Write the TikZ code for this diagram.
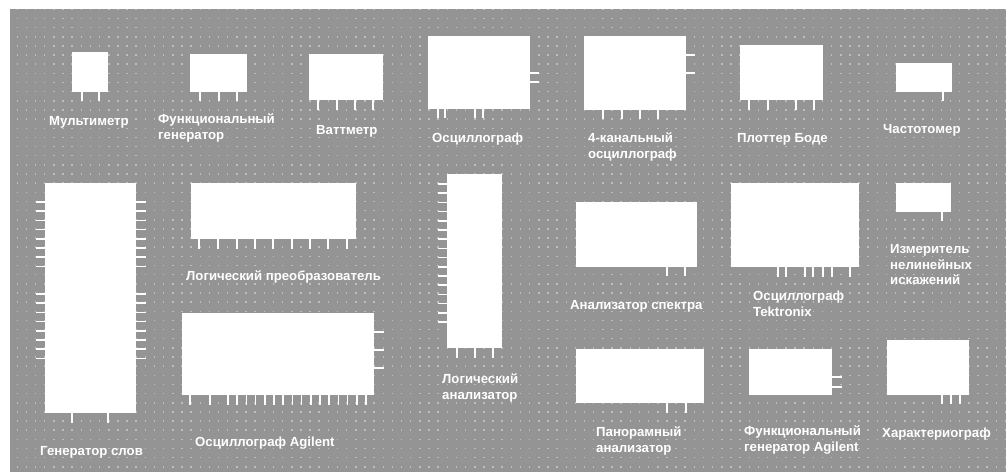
\documentclass[tikz,border=0pt]{standalone}
\usepackage{fontspec}
\setmainfont{Liberation Sans}
\definecolor{bgc}{RGB}{148,148,148}
\definecolor{dotc}{RGB}{190,190,190}
\tikzset{
  box/.style={fill=white, inner sep=0pt, outer sep=0pt, anchor=north west},
  pinline/.style={draw=white, line width=1.6pt},
  dotline/.style={draw=dotc, line width=1.5pt, dash pattern=on 1.5pt off 7.65pt, dash phase=0pt},
  lbl/.style={text=white, font=\bfseries\fontsize{13.2}{15.5}\selectfont, inner sep=0pt, anchor=west, align=left},
}
\newcommand{\mkbox}[5]{\node[box, minimum width=#4-#2, minimum height=#5-#3] (#1) at (#2,#3) {};}
\begin{document}
\begin{tikzpicture}[x=1pt,y=-1pt]
\useasboundingbox (0,0) rectangle (1006,472);
\fill[white] (0,0) rectangle (1006,472);
\fill[bgc] (10,9) rectangle (1006,472);
\foreach \k in {0,...,50} \draw[dotline] (16.5,9.3+9.15*\k) -- (1006,9.3+9.15*\k);

% ---- row 1
\mkbox{mm}{72}{52}{108}{92}
\foreach \x in {82,99} \draw[pinline] (\x,92) -- (\x,101);
\node[lbl] (tmm) at (49,122) {Мультиметр};

\mkbox{fg}{190}{54}{247}{92}
\foreach \x in {200,219,237} \draw[pinline] (\x,92) -- (\x,101);
\node[lbl] (tfg) at (158,128) {Функциональный\\генератор};

\mkbox{wm}{309}{54}{383}{100}
\foreach \x in {318,337,355,373} \draw[pinline] (\x,100) -- (\x,110);
\node[lbl] (twm) at (316,131) {Ваттметр};

\mkbox{osc}{428}{36}{530}{109}
\foreach \y in {73,82} \draw[pinline] (530,\y) -- (539,\y);
\foreach \x in {438,445,475,483} \draw[pinline] (\x,109) -- (\x,118);
\node[lbl] (tosc) at (432,139) {Осциллограф};

\mkbox{osc4}{584}{36}{686}{110}
\foreach \y in {55,73} \draw[pinline] (686,\y) -- (695,\y);
\foreach \x in {603,622,640,658} \draw[pinline] (\x,110) -- (\x,119);
\node[lbl] (tosc4) at (588,147) {4-канальный\\осциллограф};

\mkbox{bode}{740}{45}{823}{100}
\foreach \x in {749,768,796,814} \draw[pinline] (\x,100) -- (\x,110);
\node[lbl] (tbode) at (737,139) {Плоттер Боде};

\mkbox{freq}{896}{63}{952}{92}
\draw[pinline] (943,92) -- (943,101);
\node[lbl] (tfreq) at (883,130) {Частотомер};

% ---- word generator
\mkbox{wg}{45}{183}{136}{413}
\foreach \k in {0,...,7} {
  \draw[pinline] (36,202+9.2*\k) -- (45,202+9.2*\k);
  \draw[pinline] (136,202+9.2*\k) -- (146,202+9.2*\k);
  \draw[pinline] (36,294+9.2*\k) -- (45,294+9.2*\k);
  \draw[pinline] (136,294+9.2*\k) -- (146,294+9.2*\k);
}
\foreach \x in {72,108} \draw[pinline] (\x,413) -- (\x,423);
\node[lbl] (twg) at (40,452) {Генератор слов};

% ---- logic converter
\mkbox{lc}{191}{183}{356}{239}
\foreach \x in {199,218,237,255,273,292,310,328,347} \draw[pinline] (\x,239) -- (\x,249);
\node[lbl] (tlc) at (186,277) {Логический преобразователь};

% ---- Agilent scope
\mkbox{agil}{182}{313}{374}{395}
\foreach \y in {332,350,368} \draw[pinline] (374,\y) -- (384,\y);
\foreach \x in {190,210} \draw[pinline] (\x,395) -- (\x,405);
\foreach \k in {0,...,15} \draw[pinline] (228+9.2*\k,395) -- (228+9.2*\k,405);
\node[lbl] (tagil) at (195,443) {Осциллограф Agilent};

% ---- logic analyzer
\mkbox{la}{447}{174}{502}{348}
\foreach \k in {0,...,15} \draw[pinline] (438,184+9.2*\k) -- (447,184+9.2*\k);
\foreach \x in {457,475,493} \draw[pinline] (\x,348) -- (\x,358);
\node[lbl] (tla) at (442,388) {Логический\\анализатор};

% ---- spectrum analyzer
\mkbox{spec}{576}{202}{697}{267}
\foreach \x in {667,685} \draw[pinline] (\x,267) -- (\x,276);
\node[lbl] (tspec) at (570,306) {Анализатор спектра};

% ---- Tektronix
\mkbox{tek}{731}{183}{859}{267}
\foreach \x in {778,786,805,813,823,832,850} \draw[pinline] (\x,267) -- (\x,277);
\node[lbl] (ttek) at (753,304) {Осциллограф\\Tektronix};

% ---- distortion analyzer
\mkbox{dist}{896}{183}{951}{212}
\draw[pinline] (942,212) -- (942,221);
\node[lbl] (tdist) at (890,265) {Измеритель\\нелинейных\\искажений};

% ---- row 3
\mkbox{pan}{576}{349}{704}{403}
\foreach \x in {667,686} \draw[pinline] (\x,403) -- (\x,413);
\node[lbl] (tpan) at (596,441) {Панорамный\\анализатор};

\mkbox{fga}{749}{349}{832}{395}
\foreach \y in {377,387} \draw[pinline] (832,\y) -- (842,\y);
\node[lbl] (tfga) at (744,440) {Функциональный\\генератор Agilent};

\mkbox{chr}{887}{340}{969}{395}
\foreach \x in {942,951,960} \draw[pinline] (\x,395) -- (\x,404);
\node[lbl] (tchr) at (882,434) {Характериограф};
\end{tikzpicture}
\end{document}
